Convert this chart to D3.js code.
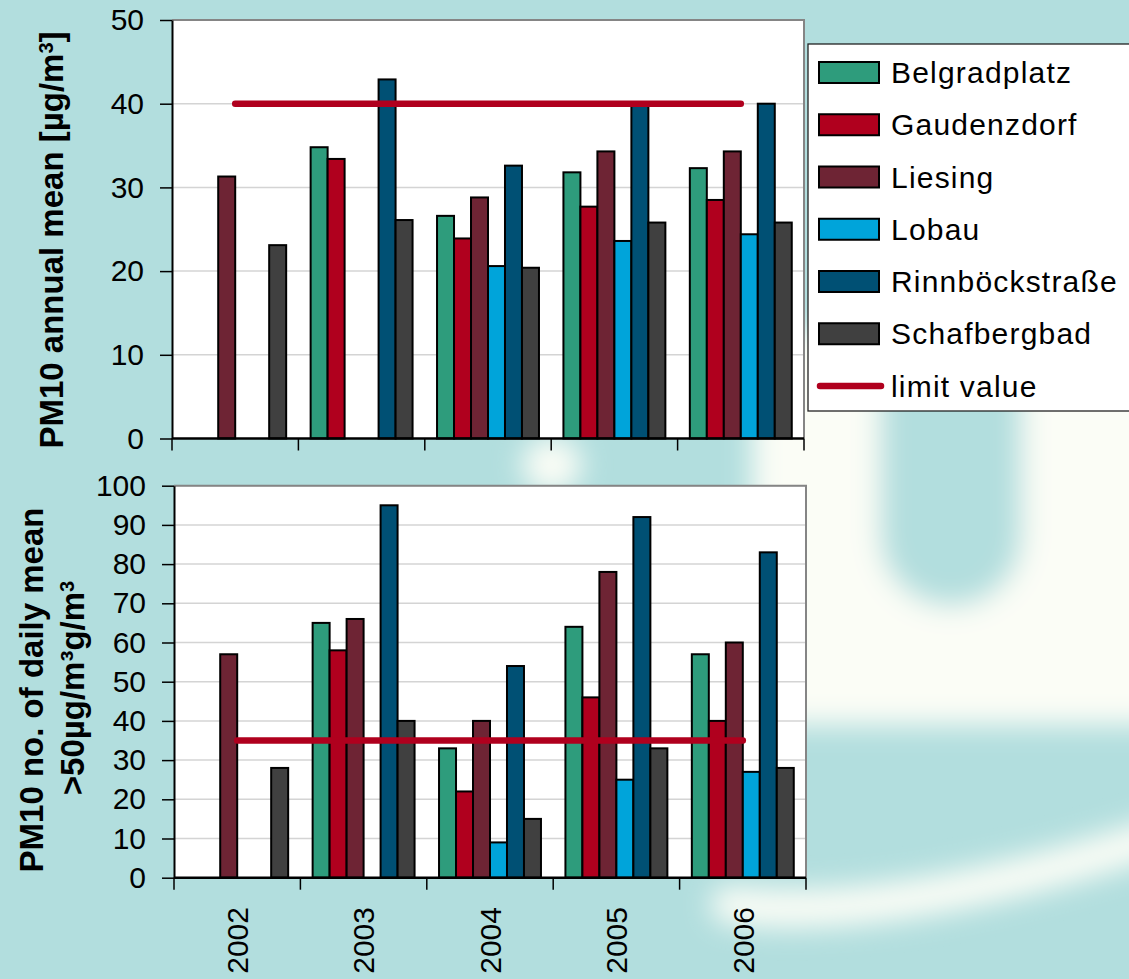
<!DOCTYPE html>
<html>
<head>
<meta charset="utf-8">
<script src="https://cdn.jsdelivr.net/npm/d3@7"></script>
<style>
  body { margin: 0; background: #b2dede; }
  svg { display: block; }
  text { font-family: "Liberation Sans", Arial, sans-serif; }
</style>
</head>
<body>
<div id="chart"></div>
<script>
var years = ["2002", "2003", "2004", "2005", "2006"];
var stations = ["Belgradplatz", "Gaudenzdorf", "Liesing", "Lobau", "Rinnböckstraße", "Schafbergbad"];
var stationColors = ["#2e9c7c", "#b0001e", "#6e2434", "#00a4da", "#005074", "#404040"];

// PM10 annual mean [µg/m³], one row per station
var annualMean = [
  [null, 34.8, 26.6, 31.8, 32.3],
  [null, 33.4, 23.9, 27.7, 28.5],
  [31.3, null, 28.8, 34.3, 34.3],
  [null, null, 20.6, 23.6, 24.4],
  [null, 42.9, 32.6, 40.0, 40.0],
  [23.1, 26.1, 20.4, 25.8, 25.8]
];
// no. of days with daily mean > 50 µg/m³, one row per station
var exceedDays = [
  [null, 65, 33, 64, 57],
  [null, 58, 22, 46, 40],
  [57, 66, 40, 78, 60],
  [null, null, 9, 25, 27],
  [null, 95, 54, 92, 83],
  [28, 40, 15, 33, 28]
];
var limitMean = 40, limitDays = 35;
var meanTicks = [0, 10, 20, 30, 40, 50];
var dayTicks = [0, 10, 20, 30, 40, 50, 60, 70, 80, 90, 100];
var limitLabel = "limit value";

var width = 1129, height = 979;
var teal = "#b2dede", pale = "#fbfdf6", limitColor = "#b0001e";

var svg = d3.select("#chart").append("svg")
  .attr("width", width)
  .attr("height", height);

// background with the blurred watermark shape
var defs = svg.append("defs");
defs.append("filter").attr("id", "soft")
  .attr("filterUnits", "userSpaceOnUse")
  .attr("x", 0).attr("y", 0).attr("width", width).attr("height", height)
  .append("feGaussianBlur").attr("stdDeviation", 14);

svg.append("rect").attr("width", width).attr("height", height).attr("fill", teal);
var bg = svg.append("g").attr("filter", "url(#soft)");
bg.append("rect").attr("x", 752).attr("y", 330).attr("width", 460).attr("height", 395).attr("fill", pale);
bg.append("path").attr("d", "M880,300L880,535A70,70 0 0 0 1022,535L1022,300Z").attr("fill", teal);
bg.append("path").attr("d", "M730,905Q900,925 1185,828")
  .attr("fill", "none").attr("stroke", pale).attr("stroke-width", 38).attr("stroke-linecap", "round");
bg.append("ellipse").attr("cx", 552).attr("cy", 465).attr("rx", 30).attr("ry", 28).attr("fill", pale);

function drawPanel(opts) {
  var g = svg.append("g");
  var x = d3.scaleBand().domain(years).range([opts.left, opts.right]);
  var xs = d3.scaleBand().domain(stations).range([0, x.bandwidth()]).paddingOuter(0.72);
  var y = d3.scaleLinear().domain([0, opts.max]).range([opts.bottom, opts.top]);

  g.append("rect")
    .attr("x", opts.left).attr("y", opts.top)
    .attr("width", opts.right - opts.left).attr("height", opts.bottom - opts.top)
    .attr("fill", "#fff");

  g.selectAll(".grid")
    .data(opts.ticks.slice(1))
    .enter().append("line")
    .attr("x1", opts.left).attr("x2", opts.right)
    .attr("y1", function(d) { return y(d); }).attr("y2", function(d) { return y(d); })
    .attr("stroke", "#d4d4d4").attr("stroke-width", 1.5);

  g.append("path")
    .attr("d", "M" + opts.left + "," + opts.top + "H" + opts.right + "V" + opts.bottom)
    .attr("fill", "none").attr("stroke", "#858585").attr("stroke-width", 2);

  stations.forEach(function(s, i) {
    var rows = years.map(function(yr, j) { return { year: yr, v: opts.values[i][j] }; })
      .filter(function(d) { return d.v != null; });
    g.selectAll(null)
      .data(rows)
      .enter().append("rect")
      .attr("x", function(d) { return x(d.year) + xs(s); })
      .attr("y", function(d) { return y(d.v); })
      .attr("width", xs.bandwidth())
      .attr("height", function(d) { return y(0) - y(d.v); })
      .attr("fill", stationColors[i])
      .attr("stroke", "#000").attr("stroke-width", 2);
  });

  // limit line runs from the first to the last category centre
  g.append("line")
    .attr("x1", x(years[0]) + x.bandwidth() / 2)
    .attr("x2", x(years[years.length - 1]) + x.bandwidth() / 2)
    .attr("y1", y(opts.limit)).attr("y2", y(opts.limit))
    .attr("stroke", limitColor).attr("stroke-width", 6.5).attr("stroke-linecap", "round");

  var ax = g.append("g")
    .attr("transform", "translate(" + opts.left + ",0)")
    .call(d3.axisLeft(y).tickValues(opts.ticks).tickSize(12).tickSizeOuter(0).tickPadding(16));
  ax.attr("font-family", null).attr("font-size", null);
  ax.select(".domain").attr("stroke", "#000").attr("stroke-width", 2);
  ax.selectAll(".tick line").attr("stroke", "#000").attr("stroke-width", 1.5);
  ax.selectAll(".tick text").attr("fill", "#000").style("font-size", "30px");

  // category axis: baseline plus boundary ticks
  var bounds = years.map(function(yr) { return x(yr); }).concat([opts.right]);
  g.append("line")
    .attr("x1", opts.left).attr("x2", opts.right)
    .attr("y1", opts.bottom).attr("y2", opts.bottom)
    .attr("stroke", "#000").attr("stroke-width", 2.5);
  g.selectAll(".xtick")
    .data(bounds)
    .enter().append("line")
    .attr("x1", function(d) { return d; }).attr("x2", function(d) { return d; })
    .attr("y1", opts.bottom).attr("y2", opts.bottom + 12)
    .attr("stroke", "#000").attr("stroke-width", 1.5);

  if (opts.labels) {
    g.selectAll(".xlab")
      .data(years)
      .enter().append("text")
      .attr("transform", function(d) {
        return "translate(" + (x(d) + x.bandwidth() / 2 + 10.7) + "," + 907 + ") rotate(-90)";
      })
      .attr("text-anchor", "end")
      .style("font-size", "30px")
      .text(function(d) { return d; });
  }
  return g;
}

drawPanel({ left: 172, right: 804, top: 20, bottom: 438.5, max: 50,
  ticks: meanTicks, values: annualMean, limit: limitMean, labels: false });
drawPanel({ left: 174, right: 806, top: 485.7, bottom: 877.7, max: 100,
  ticks: dayTicks, values: exceedDays, limit: limitDays, labels: true });

// axis titles
var t1 = svg.append("text")
  .attr("transform", "translate(63,240) rotate(-90)")
  .attr("text-anchor", "middle")
  .style("font-size", "33px").style("font-weight", "bold");
t1.append("tspan").text("PM10 annual mean [µg/m");
t1.append("tspan").attr("dy", -10).style("font-size", "20px").text("3");
t1.append("tspan").attr("dy", 10).text("]");

var t2 = svg.append("text")
  .attr("transform", "translate(43,690) rotate(-90)")
  .attr("text-anchor", "middle")
  .style("font-size", "33px").style("font-weight", "bold")
  .text("PM10 no. of daily mean");
var t3 = svg.append("text")
  .attr("transform", "translate(84,688) rotate(-90)")
  .attr("text-anchor", "middle")
  .style("font-size", "33px").style("font-weight", "bold");
t3.append("tspan").text(">50µg/m³g/m");
t3.append("tspan").attr("dy", -10).style("font-size", "20px").text("3");

// legend
var legend = svg.append("g");
legend.append("rect")
  .attr("x", 808).attr("y", 44).attr("width", 420).attr("height", 367)
  .attr("fill", "#fff").attr("stroke", "#222").attr("stroke-width", 1.3);
var rowY = d3.scaleLinear().domain([0, 6]).range([72.5, 386]);
stations.forEach(function(s, i) {
  legend.append("rect")
    .attr("x", 819).attr("y", rowY(i) - 10.5).attr("width", 60).attr("height", 21)
    .attr("fill", stationColors[i]).attr("stroke", "#000").attr("stroke-width", 2);
  legend.append("text")
    .attr("x", 891).attr("y", rowY(i) + 10.5)
    .style("font-size", "30px").style("letter-spacing", "1.2px")
    .text(s);
});
legend.append("line")
  .attr("x1", 820).attr("x2", 881)
  .attr("y1", rowY(6)).attr("y2", rowY(6))
  .attr("stroke", limitColor).attr("stroke-width", 6.5).attr("stroke-linecap", "round");
legend.append("text")
  .attr("x", 891).attr("y", rowY(6) + 10.5)
  .style("font-size", "30px").style("letter-spacing", "1.2px")
  .text(limitLabel);
</script>
</body>
</html>
